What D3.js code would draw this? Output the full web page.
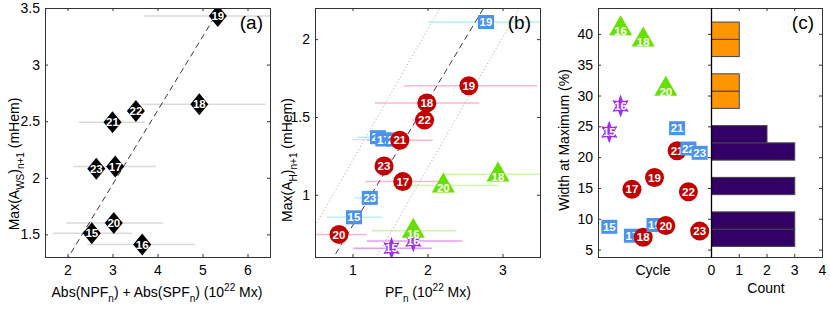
<!DOCTYPE html>
<html>
<head>
<meta charset="utf-8">
<script src="https://cdn.jsdelivr.net/npm/d3@7"></script>
<style>
  body { margin: 0; background: #fff; }
  text { font-family: "Liberation Sans", Arial, sans-serif; }
</style>
</head>
<body>
<div id="chart"></div>
<script>
// ---- panel (a): black diamonds ----
const a_cycles = [15, 16, 17, 18, 19, 20, 21, 22, 23];
const a_x      = [2.54, 3.66, 3.06, 4.93, 5.34, 3.03, 3.00, 3.52, 2.64];
const a_y      = [1.51, 1.41, 2.10, 2.65, 3.43, 1.60, 2.49, 2.59, 2.08];
const a_lo     = [1.68, 2.44, 2.13, 3.65, 3.70, 1.97, 2.25, 3.35, 2.45];
const a_hi     = [3.43, 4.83, 3.97, 6.40, 6.60, 4.12, 3.72, 3.70, 2.85];
const a_fit    = {slope: 0.653, icept: -0.02};

// ---- panel (b): four groups ----
const b_blue_cycles = [15, 23, 21, 17, 22, 19];
const b_blue_x      = [1.02, 1.23, 1.34, 1.41, 1.55, 2.78];
const b_blue_y      = [0.855, 0.98, 1.37, 1.355, 1.355, 2.11];
const b_blue_lo     = [0.66, 1.03, 1.07, 0.99, 1.20, 2.01];
const b_blue_hi     = [1.39, 1.37, 1.59, 1.37, 1.80, 3.60];

const b_red_cycles = [20, 23, 17, 21, 22, 18, 19];
const b_red_x      = [0.82, 1.42, 1.67, 1.63, 1.96, 1.99, 2.55];
const b_red_y      = [0.745, 1.185, 1.085, 1.35, 1.48, 1.59, 1.70];
const b_red_lo     = [0.45, 1.30, 1.17, 1.19, 1.80, 1.30, 1.69];
const b_red_hi     = [1.19, 1.55, 2.14, 2.07, 2.10, 2.69, 3.46];

const b_green_cycles = [16, 20, 18];
const b_green_x      = [1.81, 2.21, 2.94];
const b_green_y      = [0.769, 1.06, 1.131];
const b_green_lo     = [1.26, 1.54, 2.21];
const b_green_hi     = [2.38, 2.94, 3.60];

const b_purple_cycles = [15, 16];
const b_purple_x      = [1.52, 1.81];
const b_purple_y      = [0.656, 0.703];
const b_purple_lo     = [1.01, 1.19];
const b_purple_hi     = [2.06, 2.46];

const b_fit     = {slope: 0.80, icept: 0.0};
const b_bounds  = [{slope: 0.84, icept: 0.38}, {slope: 0.84, icept: -0.51}];

// ---- panel (c): width at maximum per cycle ----
const c_green_cycles  = [16, 18, 20];
const c_green_w       = [40.9, 39.1, 31.1];
const c_purple_cycles = [15, 16];
const c_purple_w      = [24.1, 28.3];
const c_blue_cycles   = [15, 17, 19, 21, 22, 23];
const c_blue_w        = [8.7, 7.25, 9.0, 24.7, 21.4, 20.7];
const c_red_cycles    = [17, 18, 19, 20, 21, 22, 23];
const c_red_w         = [14.8, 7.0, 16.7, 8.9, 21.05, 14.4, 8.0];

// histogram of widths
const hist_lo     = [5.6, 8.4, 11.2, 14.0, 16.8, 19.6, 22.4, 25.2, 28.0, 30.8, 33.6, 36.4, 39.2];
const hist_hi     = [8.4, 11.2, 14.0, 16.8, 19.6, 22.4, 25.2, 28.0, 30.8, 33.6, 36.4, 39.2, 42.0];
const hist_counts = [3, 3, 0, 3, 0, 3, 2, 0, 1, 1, 0, 1, 1];
const hist_group  = ["low", "low", "low", "low", "low", "low", "low", "low", "high", "high", "high", "high", "high"];

// colours
const col = {
  blue: "#4a92ec", red: "#c20000", green: "#66e000", purple: "#9d2cf5",
  blue_err: "#b5f2f4", red_err: "#ffb6cf", green_err: "#cdf5ae", purple_err: "#e59cff",
  gray_err: "#dadada", high: "#ff9500", low: "#330066", axis: "#333"
};

const width = 830, height = 313;
const plot_top = 8, plot_bottom = 257;

const svg = d3.select("#chart").append("svg")
  .attr("width", width)
  .attr("height", height);

function zip(cycles, xs, ys, lo, hi){
  return cycles.map((c, i) => ({c: c, x: xs[i], y: ys[i], lo: lo ? lo[i] : null, hi: hi ? hi[i] : null}));
}

function marker_path(shape){
  if (shape == "diamond") return "M0,-11L9,0L0,11L-9,0Z";
  if (shape == "square") return "M-8,-7H8V7H-8Z";
  if (shape == "triangle") return "M0,-13L11.5,7L-11.5,7Z";
  if (shape == "hexagram") {
    let pts = [];
    for (let k = 0; k < 12; k++) {
      let r = (k % 2 == 0) ? 10 : 5;
      let a = -Math.PI / 2 + k * Math.PI / 6;
      pts.push([r * Math.cos(a) * 0.95, r * Math.sin(a) * 1.15]);
    }
    return "M" + pts.map(p => p[0].toFixed(2) + "," + p[1].toFixed(2)).join("L") + "Z";
  }
  return null;
}

// draws frame, ticks on all sides and tick labels
function make_frame(g, x, y, xticks, yticks, opts){
  opts = opts || {};
  let [x0, x1] = x.range();
  let fmt = d3.format("~g");
  if (xticks) {
    g.append("g").attr("transform", `translate(0,${plot_bottom})`)
      .call(d3.axisBottom(x).tickValues(xticks).tickFormat(fmt).tickSizeInner(-3).tickSizeOuter(0).tickPadding(8))
      .call(s => s.select(".domain").remove());
    g.append("g").attr("transform", `translate(0,${plot_top})`)
      .call(d3.axisTop(x).tickValues(xticks).tickFormat("").tickSizeInner(-3).tickSizeOuter(0))
      .call(s => s.select(".domain").remove());
  }
  if (yticks) {
    if (!opts.no_left) {
      g.append("g").attr("transform", `translate(${x0},0)`)
        .call(d3.axisLeft(y).tickValues(yticks).tickFormat(opts.no_ylabels ? "" : fmt).tickSizeInner(-3).tickSizeOuter(0).tickPadding(5))
        .call(s => s.select(".domain").remove());
    }
    g.append("g").attr("transform", `translate(${x1},0)`)
      .call(d3.axisRight(y).tickValues(yticks).tickFormat("").tickSizeInner(-3).tickSizeOuter(0))
      .call(s => s.select(".domain").remove());
  }
  g.selectAll(".tick line").attr("stroke", col.axis);
  g.selectAll(".tick text").attr("font-size", 14).attr("fill", "#000")
    .attr("font-family", "Liberation Sans, Arial, sans-serif");
  g.append("rect")
    .attr("x", x0 + 0.5).attr("y", plot_top + 0.5)
    .attr("width", x1 - x0).attr("height", plot_bottom - plot_top)
    .attr("fill", "none").attr("stroke", col.axis).attr("stroke-width", 1);
}

function clip_for(id, x, y){
  svg.append("clipPath").attr("id", id).append("rect")
    .attr("x", x.range()[0]).attr("y", plot_top)
    .attr("width", x.range()[1] - x.range()[0]).attr("height", plot_bottom - plot_top);
  return "url(#" + id + ")";
}

function draw_errbars(g, x, y, dat, colour){
  g.selectAll(null).data(dat.filter(d => d.lo != null)).enter().append("line")
    .attr("x1", d => x(d.lo)).attr("x2", d => x(d.hi))
    .attr("y1", d => y(d.y)).attr("y2", d => y(d.y))
    .attr("stroke", colour).attr("stroke-width", 1.5);
}

function draw_markers(g, x, y, dat, shape, colour, xkey){
  xkey = xkey || "x";
  let m = g.selectAll(null).data(dat).enter().append("g")
    .attr("transform", d => `translate(${x(d[xkey]).toFixed(1)},${y(d.y).toFixed(1)})`);
  if (shape == "circle") m.append("circle").attr("r", 9.5).attr("fill", colour);
  else m.append("path").attr("d", marker_path(shape)).attr("fill", colour);
  m.append("text")
    .attr("text-anchor", "middle")
    .attr("dy", shape == "triangle" ? "0.6em" : "0.36em")
    .attr("font-size", 11.5)
    .attr("font-weight", "bold")
    .attr("fill", "#fff")
    .text(d => d.c);
}

function draw_fit(g, x, y, fit, dash){
  let [d0, d1] = x.domain();
  g.append("line")
    .attr("x1", x(d0)).attr("y1", y(fit.slope * d0 + fit.icept))
    .attr("x2", x(d1)).attr("y2", y(fit.slope * d1 + fit.icept))
    .attr("stroke", dash == "dot" ? "#999" : "#222")
    .attr("stroke-width", 0.9)
    .attr("stroke-dasharray", dash == "dot" ? "1,2.5" : "6,4");
}

// ================= panel (a) =================
{
  let x = d3.scaleLinear().domain([1.5, 6.5]).range([45, 270]);
  let y = d3.scaleLinear().domain([1.3, 3.5]).range([plot_bottom, plot_top]);
  let g = svg.append("g");
  let inner = g.append("g").attr("clip-path", clip_for("clipA", x, y));
  let dat = zip(a_cycles, a_x, a_y, a_lo, a_hi);
  draw_errbars(inner, x, y, dat, col.gray_err);
  draw_fit(inner, x, y, a_fit, "dash");
  draw_markers(inner, x, y, dat, "diamond", "#000");
  make_frame(g, x, y, [2, 3, 4, 5, 6], [1.5, 2, 2.5, 3, 3.5]);

  g.append("text").attr("x", 263).attr("y", 29).attr("text-anchor", "end")
    .attr("font-size", 19).text("(a)");

  let xl = g.append("text").attr("x", 157).attr("y", 297).attr("text-anchor", "middle").attr("font-size", 14);
  xl.append("tspan").text("Abs(NPF");
  xl.append("tspan").attr("dy", 5).attr("font-size", 10).text("n");
  xl.append("tspan").attr("dy", -5).text(") + Abs(SPF");
  xl.append("tspan").attr("dy", 5).attr("font-size", 10).text("n");
  xl.append("tspan").attr("dy", -5).text(") (10");
  xl.append("tspan").attr("dy", -6).attr("font-size", 10).text("22");
  xl.append("tspan").attr("dy", 6).text(" Mx)");

  let yl = g.append("text").attr("transform", "translate(19,164) rotate(-90)")
    .attr("text-anchor", "middle").attr("font-size", 14);
  yl.append("tspan").text("Max(A");
  yl.append("tspan").attr("dy", 5).attr("font-size", 10).text("WS");
  yl.append("tspan").attr("dy", -5).text(")");
  yl.append("tspan").attr("dy", 5).attr("font-size", 10).text("n+1");
  yl.append("tspan").attr("dy", -5).text(" (mHem)");
}

// ================= panel (b) =================
{
  let x = d3.scaleLinear().domain([0.5, 3.5]).range([315, 540]);
  let y = d3.scaleLinear().domain([0.6, 2.2]).range([plot_bottom, plot_top]);
  let g = svg.append("g");
  let inner = g.append("g").attr("clip-path", clip_for("clipB", x, y));
  let blue = zip(b_blue_cycles, b_blue_x, b_blue_y, b_blue_lo, b_blue_hi);
  let red = zip(b_red_cycles, b_red_x, b_red_y, b_red_lo, b_red_hi);
  let green = zip(b_green_cycles, b_green_x, b_green_y, b_green_lo, b_green_hi);
  let purple = zip(b_purple_cycles, b_purple_x, b_purple_y, b_purple_lo, b_purple_hi);

  draw_errbars(inner, x, y, blue, col.blue_err);
  draw_errbars(inner, x, y, red, col.red_err);
  draw_errbars(inner, x, y, green, col.green_err);
  draw_errbars(inner, x, y, purple, col.purple_err);
  b_bounds.forEach(f => draw_fit(inner, x, y, f, "dot"));
  draw_fit(inner, x, y, b_fit, "dash");
  draw_markers(inner, x, y, purple, "hexagram", col.purple);
  draw_markers(inner, x, y, blue, "square", col.blue);
  draw_markers(inner, x, y, red, "circle", col.red);
  draw_markers(inner, x, y, green, "triangle", col.green);
  make_frame(g, x, y, [1, 2, 3], [1, 1.5, 2]);

  g.append("text").attr("x", 531).attr("y", 29).attr("text-anchor", "end")
    .attr("font-size", 19).text("(b)");

  let xl = g.append("text").attr("x", 428).attr("y", 297).attr("text-anchor", "middle").attr("font-size", 14);
  xl.append("tspan").text("PF");
  xl.append("tspan").attr("dy", 5).attr("font-size", 10).text("n");
  xl.append("tspan").attr("dy", -5).text(" (10");
  xl.append("tspan").attr("dy", -6).attr("font-size", 10).text("22");
  xl.append("tspan").attr("dy", 6).text(" Mx)");

  let yl = g.append("text").attr("transform", "translate(292,160) rotate(-90)")
    .attr("text-anchor", "middle").attr("font-size", 14);
  yl.append("tspan").text("Max(A");
  yl.append("tspan").attr("dy", 5).attr("font-size", 10).text("H");
  yl.append("tspan").attr("dy", -5).text(")");
  yl.append("tspan").attr("dy", 5).attr("font-size", 10).text("n+1");
  yl.append("tspan").attr("dy", -5).text(" (mHem)");
}

// ================= panel (c) =================
{
  let x = d3.scaleLinear().domain([14, 24]).range([598, 711]);
  let y = d3.scaleLinear().domain([3.8, 44.2]).range([plot_bottom, plot_top]);
  let g = svg.append("g");
  let inner = g.append("g").attr("clip-path", clip_for("clipC", x, y));

  let pts = [].concat(
    zip(c_purple_cycles, c_purple_cycles, c_purple_w).map(d => Object.assign(d, {shape: "hexagram", fill: col.purple})),
    zip(c_green_cycles, c_green_cycles, c_green_w).map(d => Object.assign(d, {shape: "triangle", fill: col.green})),
    zip(c_blue_cycles, c_blue_cycles, c_blue_w).map(d => Object.assign(d, {shape: "square", fill: col.blue})),
    zip(c_red_cycles, c_red_cycles, c_red_w).map(d => Object.assign(d, {shape: "circle", fill: col.red}))
  );
  // plotted cycle by cycle, squares before circles
  let order = {hexagram: 0, triangle: 1, square: 2, circle: 3};
  pts.sort((p, q) => (p.c - q.c) || (order[p.shape] - order[q.shape]));
  pts.forEach(p => draw_markers(inner, x, y, [p], p.shape, p.fill));

  make_frame(g, x, y, null, [5, 10, 15, 20, 25, 30, 35, 40]);
  g.append("text").attr("x", 653).attr("y", 275).attr("text-anchor", "middle")
    .attr("font-size", 14).text("Cycle");

  g.append("text").attr("transform", "translate(569,140) rotate(-90)")
    .attr("text-anchor", "middle").attr("font-size", 14).text("Width at Maximum (%)");

  // histogram
  let hx = d3.scaleLinear().domain([0, 4]).range([711, 822]);
  let hg = svg.append("g");
  let bins = hist_counts.map((n, i) => ({lo: hist_lo[i], hi: hist_hi[i], n: n, grp: hist_group[i]}))
    .filter(b => b.n > 0);
  hg.selectAll("rect.bar").data(bins).enter().append("rect")
    .attr("class", "bar")
    .attr("x", hx(0) + 0.5)
    .attr("y", d => y(d.hi) + 0.5)
    .attr("width", d => hx(d.n) - hx(0))
    .attr("height", d => y(d.lo) - y(d.hi))
    .attr("fill", d => d.grp == "high" ? col.high : col.low)
    .attr("stroke", "#444").attr("stroke-width", 1);

  make_frame(hg, hx, y, [0, 1, 2, 3, 4], [5, 10, 15, 20, 25, 30, 35, 40], {no_left: true});
  hg.append("line").attr("x1", hx(0) + 0.5).attr("x2", hx(0) + 0.5)
    .attr("y1", plot_top).attr("y2", plot_bottom + 1)
    .attr("stroke", "#000").attr("stroke-width", 1.3);

  hg.append("text").attr("x", 766).attr("y", 293).attr("text-anchor", "middle")
    .attr("font-size", 14).text("Count");
  hg.append("text").attr("x", 814).attr("y", 29).attr("text-anchor", "end")
    .attr("font-size", 19).text("(c)");
}
</script>
</body>
</html>
